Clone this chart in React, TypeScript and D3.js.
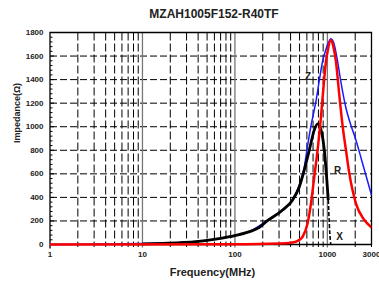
import { useEffect, useRef } from 'react';
import * as d3 from 'd3';

const TITLE = 'MZAH1005F152-R40TF';

// frequency (MHz) / impedance (Ohm)
const Z_FREQ = [1, 3, 5, 10, 17, 38, 88, 144, 218, 329, 421, 498, 563, 611, 665, 720, 754, 820, 888, 950, 1005, 1093, 1187, 1288, 1400, 1587, 1800, 2034, 2398, 3000];
const Z_VAL = [0, 3, 5, 8, 12, 26, 68, 112, 198, 298, 385, 505, 660, 840, 1010, 1140, 1220, 1400, 1556, 1640, 1697, 1746, 1697, 1556, 1380, 1159, 1010, 888, 690, 420];

const R_FREQ = [1, 100, 300, 400, 458, 500, 540, 611, 665, 722, 784, 853, 926, 966, 1000, 1093, 1160, 1237, 1344, 1460, 1587, 1721, 2034, 2500, 3000];
const R_VAL = [0, 2, 8, 14, 24, 40, 66, 180, 350, 576, 803, 1086, 1414, 1556, 1630, 1737, 1680, 1556, 1272, 1010, 803, 610, 350, 210, 145];

const X_FREQ = [10, 16.7, 38, 87.5, 143.7, 184, 217.6, 328.7, 421, 497.7, 563, 638, 722, 784, 853, 926, 980, 1023];
const X_VAL = [6, 10, 24, 66, 109, 145, 194, 293, 378, 491, 633, 803, 973, 1024, 973, 803, 576, 378];
const X_NEG_FREQ = [1023, 1075, 1090];
const X_NEG_VAL = [378, 38, 0];

const Y_TICKS = [0, 200, 400, 600, 800, 1000, 1200, 1400, 1600, 1800];
const X_TICKS = [1, 10, 100, 1000, 3000];

export default function App() {
  const ref = useRef<SVGSVGElement>(null);

  useEffect(() => {
    if (!ref.current) return;
    const svg = d3.select(ref.current);
    svg.selectAll('*').remove();

    const left = 50, right = 371.5, top = 32.5, bottom = 244.5;
    const x = d3.scaleLog().domain([1, 3000]).range([left, right]);
    const y = d3.scaleLinear().domain([0, 1800]).range([bottom, top]);
    const font = '"Liberation Sans", Arial, sans-serif';

    svg.append('rect').attr('width', 379).attr('height', 283).attr('fill', '#fff');

    svg.append('defs').append('clipPath').attr('id', 'plotClip')
      .append('rect').attr('x', left).attr('y', top - 2)
      .attr('width', right - left).attr('height', bottom - top + 4);

    // title
    svg.append('text')
      .attr('x', 214).attr('y', 18)
      .attr('text-anchor', 'middle')
      .attr('font-family', font).attr('font-weight', 'bold').attr('font-size', 12)
      .attr('fill', '#222')
      .text(TITLE);

    const grid = svg.append('g');

    // horizontal dashed grid
    Y_TICKS.slice(1, -1).forEach((v) => {
      grid.append('line')
        .attr('x1', left).attr('x2', right)
        .attr('y1', y(v)).attr('y2', y(v))
        .attr('stroke', '#000').attr('stroke-width', 1)
        .attr('stroke-dasharray', '7,3');
    });

    // vertical minor (dashed) and decade (solid gray) grid
    const decades = [1, 10, 100, 1000];
    decades.forEach((d) => {
      for (let k = 2; k <= 9; k++) {
        const f = d * k;
        if (f > 3000) break;
        grid.append('line')
          .attr('x1', x(f)).attr('x2', x(f))
          .attr('y1', top).attr('y2', bottom)
          .attr('stroke', '#000').attr('stroke-width', 1)
          .attr('stroke-dasharray', '8,3');
        grid.append('line')
          .attr('x1', x(f)).attr('x2', x(f))
          .attr('y1', bottom).attr('y2', bottom + 2.5)
          .attr('stroke', '#000').attr('stroke-width', 1);
      }
      if (d > 1) {
        grid.append('line')
          .attr('x1', x(d)).attr('x2', x(d))
          .attr('y1', top).attr('y2', bottom + 3)
          .attr('stroke', '#777').attr('stroke-width', 1.3);
      }
    });

    // frame
    svg.append('path')
      .attr('d', `M${left},${bottom}V${top}H${right}V${bottom}H${left}`)
      .attr('fill', 'none').attr('stroke', '#000').attr('stroke-width', 1.3);

    // y ticks
    d3.range(0, 1801, 40).forEach((v) => {
      const major = v % 200 === 0;
      svg.append('line')
        .attr('x1', left).attr('x2', left + (major ? 4 : 2.5))
        .attr('y1', y(v)).attr('y2', y(v))
        .attr('stroke', '#000').attr('stroke-width', 1);
    });
    svg.append('line')
      .attr('x1', left).attr('x2', left)
      .attr('y1', bottom).attr('y2', bottom + 4)
      .attr('stroke', '#000').attr('stroke-width', 1.3);

    // tick labels
    Y_TICKS.forEach((v) => {
      svg.append('text')
        .attr('x', 43.5).attr('y', y(v))
        .attr('text-anchor', 'end').attr('dominant-baseline', 'central')
        .attr('font-family', font).attr('font-weight', 'bold').attr('font-size', 8)
        .attr('fill', '#222')
        .text(v);
    });
    X_TICKS.forEach((f) => {
      svg.append('text')
        .attr('x', x(f)).attr('y', 256.5)
        .attr('text-anchor', 'middle')
        .attr('font-family', font).attr('font-weight', 'bold').attr('font-size', 8)
        .attr('fill', '#222')
        .text(f);
    });

    // axis titles
    svg.append('text')
      .attr('x', 212.5).attr('y', 276)
      .attr('text-anchor', 'middle')
      .attr('font-family', font).attr('font-weight', 'bold').attr('font-size', 11)
      .attr('fill', '#222')
      .text('Frequency(MHz)');
    svg.append('text')
      .attr('transform', `translate(19.5,113) rotate(-90)`)
      .attr('text-anchor', 'middle')
      .attr('font-family', font).attr('font-weight', 'bold').attr('font-size', 9)
      .attr('fill', '#222')
      .text('Impedance(Ω)');

    // curves
    const line = d3.line<[number, number]>()
      .x((d) => x(d[0])).y((d) => y(d[1]))
      .curve(d3.curveMonotoneX);
    const plot = svg.append('g').attr('clip-path', 'url(#plotClip)');
    const zip = (fs: number[], vs: number[]) => fs.map((f, i) => [f, vs[i]] as [number, number]);

    plot.append('path').attr('d', line(zip(Z_FREQ, Z_VAL)))
      .attr('fill', 'none').attr('stroke', '#1a1aff').attr('stroke-width', 1.5);
    plot.append('path').attr('d', line(zip(X_FREQ, X_VAL)))
      .attr('fill', 'none').attr('stroke', '#000').attr('stroke-width', 2.8);
    plot.append('path').attr('d', line(zip(X_NEG_FREQ, X_NEG_VAL)))
      .attr('fill', 'none').attr('stroke', '#000').attr('stroke-width', 1.6)
      .attr('stroke-dasharray', '4,2');
    plot.append('path').attr('d', line(zip(R_FREQ, R_VAL)))
      .attr('fill', 'none').attr('stroke', '#ff0000').attr('stroke-width', 2.5);

    // curve labels
    const labels: [string, number, number][] = [['Z', 308, 80], ['R', 337.5, 174], ['X', 339.5, 240]];
    labels.forEach(([t, lx, ly]) => {
      svg.append('text')
        .attr('x', lx).attr('y', ly)
        .attr('text-anchor', 'middle')
        .attr('font-family', font).attr('font-weight', 'bold').attr('font-size', 10)
        .attr('fill', '#222')
        .text(t);
    });
  }, []);

  return (
    <svg
      ref={ref}
      width={379}
      height={283}
      style={{ position: 'absolute', left: 0, top: 0, display: 'block' }}
    />
  );
}
